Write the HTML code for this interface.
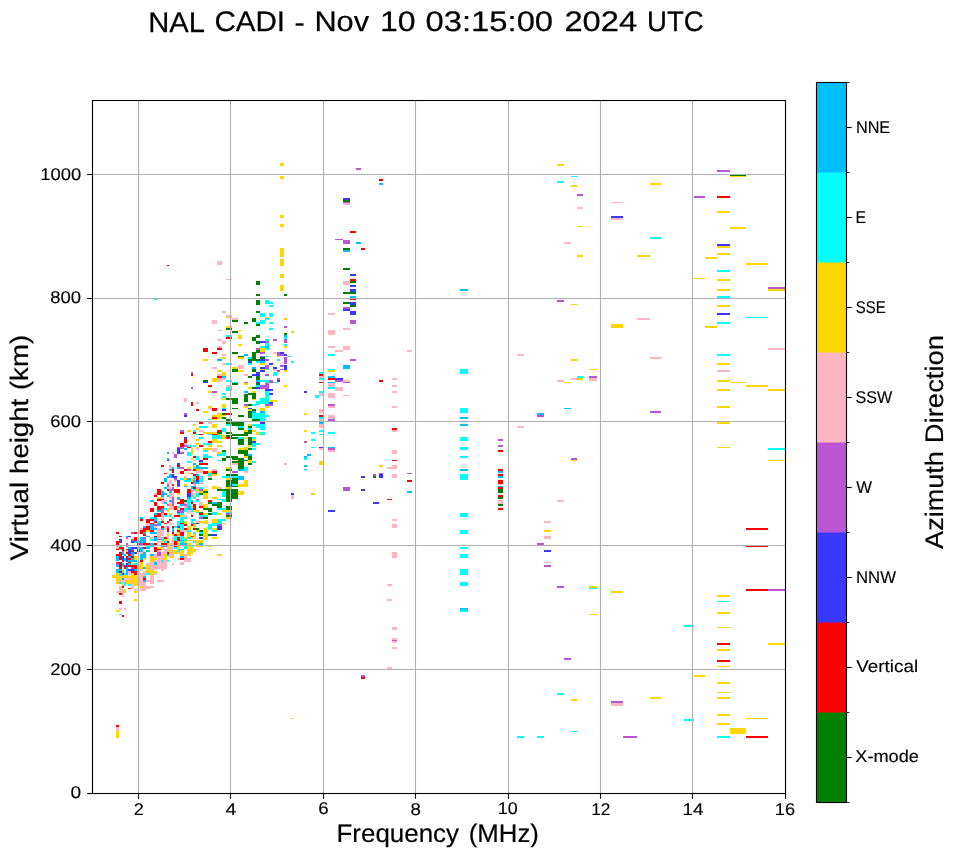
<!DOCTYPE html>
<html><head><meta charset="utf-8"><title>NAL CADI</title>
<style>
html,body{margin:0;padding:0;background:#fff;}
body{width:958px;height:857px;overflow:hidden;}
svg{display:block;}
text{font-family:"Liberation Sans",sans-serif;fill:#000;text-rendering:geometricPrecision;}
.tx{opacity:0.999;}
</style></head><body>
<svg width="958" height="857" viewBox="0 0 958 857">
<rect width="958" height="857" fill="#fff"/>
<g shape-rendering="crispEdges">
<path fill="#ffd700" d="M557 164h7v2h-7zM571 185h6v2h-6zM571 304h6v1h-6zM577 226h6v1h-6zM577 255h6v2h-6zM611 324h12v4h-12zM637 255h13v2h-13zM650 183h11v2h-11zM694 278h11v1h-11zM705 257h12v2h-12zM705 326h12v2h-12zM717 211h13v2h-13zM717 246h13v2h-13zM717 253h13v2h-13zM717 279h13v2h-13zM717 289h13v2h-13zM717 305h13v2h-13zM730 176h16v1h-16zM730 227h16v2h-16zM746 263h22v2h-22zM768 289h17v2h-17zM544 530h7v2h-7zM564 382h7v1h-7zM571 359h6v2h-6zM571 460h6v1h-6zM577 378h6v2h-6zM589 369h8v1h-8zM717 363h13v2h-13zM717 380h13v2h-13zM717 389h13v2h-13zM717 406h13v2h-13zM717 422h13v2h-13zM717 447h13v1h-13zM730 382h16v1h-16zM746 385h22v2h-22zM768 389h17v2h-17zM768 460h17v1h-17zM571 699h6v2h-6zM589 586h8v2h-8zM589 614h8v1h-8zM611 591h12v2h-12zM650 697h11v2h-11zM694 675h11v2h-11zM717 595h13v2h-13zM717 612h13v2h-13zM717 627h13v1h-13zM717 649h13v2h-13zM717 666h13v1h-13zM717 682h13v2h-13zM717 692h13v1h-13zM717 697h13v2h-13zM717 714h13v2h-13zM717 723h13v2h-13zM730 728h16v2h-16zM746 718h22v1h-22zM768 643h17v2h-17zM730 729h16v5h-16zM328 370h7v2h-7zM319 461h4v4h-4zM304 413h3v2h-3zM304 430h3v2h-3zM379 465h4v2h-4zM311 493h4v2h-4zM280 163h4v3h-4zM280 176h4v3h-4zM280 215h4v3h-4zM280 224h4v3h-4zM280 248h4v9h-4zM280 259h4v7h-4zM280 274h4v4h-4zM280 285h4v6h-4zM226 317h6v1h-6zM226 326h6v2h-6zM238 330h4v1h-4zM238 335h4v4h-4zM238 344h4v2h-4zM238 357h6v2h-6zM260 348h5v4h-5zM265 317h4v1h-4zM277 356h3v1h-3zM284 318h3v2h-3zM284 346h3v2h-3zM291 331h3v2h-3zM232 367h6v2h-6zM238 370h6v2h-6zM244 383h4v2h-4zM244 406h4v2h-4zM248 387h4v2h-4zM248 409h4v2h-4zM248 424h4v2h-4zM252 391h4v2h-4zM252 398h4v2h-4zM260 363h5v2h-5zM260 369h5v1h-5zM260 408h5v3h-5zM265 406h4v2h-4zM269 400h4v2h-4zM273 400h4v2h-4zM284 370h3v2h-3zM284 385h3v2h-3zM226 467h6v2h-6zM226 478h6v2h-6zM226 487h6v2h-6zM238 448h6v2h-6zM238 484h6v3h-6zM238 491h6v4h-6zM244 430h4v2h-4zM244 437h4v2h-4zM244 447h4v3h-4zM244 456h4v2h-4zM244 480h4v7h-4zM248 445h4v2h-4zM248 460h4v3h-4zM252 430h4v2h-4zM252 439h4v2h-4zM256 432h4v3h-4zM205 493h3v6h-3zM205 504h3v4h-3zM205 513h3v2h-3zM205 520h3v4h-3zM205 528h3v11h-3zM208 546h4v1h-4zM212 497h5v2h-5zM212 519h5v4h-5zM212 528h5v2h-5zM212 537h5v2h-5zM217 513h5v2h-5zM217 554h5v2h-5zM222 510h4v2h-4zM222 523h4v1h-4zM226 510h6v2h-6zM226 517h6v2h-6zM203 359h5v2h-5zM203 411h5v2h-5zM212 378h5v4h-5zM212 415h5v2h-5zM212 419h5v1h-5zM217 370h5v2h-5zM217 413h5v6h-5zM222 357h4v2h-4zM222 372h4v4h-4zM222 398h4v2h-4zM222 404h4v4h-4zM222 415h4v1h-4zM208 391h4v2h-4zM208 406h4v2h-4zM193 424h3v2h-3zM212 424h5v4h-5zM196 428h3v2h-3zM187 430h4v2h-4zM203 432h14v2h-14zM191 434h2v1h-2zM217 434h5v1h-5zM222 435h4v4h-4zM196 439h3v2h-3zM212 439h5v4h-5zM217 441h5v2h-5zM196 443h3v2h-3zM208 445h4v2h-4zM217 445h5v2h-5zM196 447h3v1h-3zM203 448h9v2h-9zM191 448h2v6h-2zM217 452h5v2h-5zM191 458h2v2h-2zM193 465h3v2h-3zM187 467h4v2h-4zM191 469h2v2h-2zM196 469h3v2h-3zM208 471h4v2h-4zM187 473h4v1h-4zM212 474h5v2h-5zM184 478h3v2h-3zM191 478h2v4h-2zM184 484h3v2h-3zM212 486h5v3h-5zM196 489h3v2h-3zM203 489h5v2h-5zM199 491h4v2h-4zM177 493h3v2h-3zM203 493h5v2h-5zM126 550h2v2h-2zM131 563h3v2h-3zM134 556h3v4h-3zM137 561h3v9h-3zM140 562h3v8h-3zM143 558h3v2h-3zM146 530h4v2h-4zM146 565h4v5h-4zM150 556h4v6h-4zM154 558h3v2h-3zM112 575h4v3h-4zM116 573h3v11h-3zM116 610h3v2h-3zM119 576h3v4h-3zM119 588h3v1h-3zM122 569h2v2h-2zM122 575h2v3h-2zM122 584h2v2h-2zM124 575h2v3h-2zM124 589h2v4h-2zM126 575h2v3h-2zM126 580h2v4h-2zM128 576h3v2h-3zM128 580h3v4h-3zM131 573h3v9h-3zM131 588h3v1h-3zM134 575h3v11h-3zM134 591h3v2h-3zM134 599h3v2h-3zM137 569h3v2h-3zM137 580h3v6h-3zM140 586h3v2h-3zM146 570h4v3h-4zM150 569h4v6h-4zM154 571h3v2h-3zM157 497h4v2h-4zM164 539h3v1h-3zM167 508h2v4h-2zM167 534h2v2h-2zM169 504h3v2h-3zM169 513h3v2h-3zM172 534h2v2h-2zM172 539h2v1h-2zM177 528h3v2h-3zM177 532h3v4h-3zM180 515h4v2h-4zM184 521h3v3h-3zM184 537h3v2h-3zM187 526h4v4h-4zM187 532h4v5h-4zM191 506h2v2h-2zM191 537h2v2h-2zM193 495h3v2h-3zM193 510h3v2h-3zM193 524h3v4h-3zM193 534h3v3h-3zM196 510h3v2h-3zM196 530h3v2h-3zM199 521h4v2h-4zM203 495h5v4h-5zM203 504h5v4h-5zM203 513h5v2h-5zM203 521h5v3h-5zM203 528h5v12h-5zM154 558h3v2h-3zM154 571h3v2h-3zM157 547h4v2h-4zM161 541h3v2h-3zM161 549h3v1h-3zM164 540h3v1h-3zM164 554h3v6h-3zM167 543h2v2h-2zM167 546h2v3h-2zM167 550h2v2h-2zM169 556h3v2h-3zM172 540h2v1h-2zM172 550h2v4h-2zM172 556h2v2h-2zM174 550h3v4h-3zM177 541h3v4h-3zM177 546h3v3h-3zM180 550h4v6h-4zM184 541h3v2h-3zM187 540h4v1h-4zM187 543h4v2h-4zM187 546h4v10h-4zM191 547h2v7h-2zM193 540h3v1h-3zM193 549h3v3h-3zM196 540h3v7h-3zM199 540h4v3h-4zM199 546h4v1h-4zM116 731h3v7h-3zM291 718h3v1h-3z"/>
<path fill="#00ffff" d="M557 181h7v2h-7zM571 176h6v1h-6zM650 237h11v2h-11zM717 270h13v2h-13zM717 296h13v2h-13zM717 322h13v2h-13zM746 317h22v1h-22zM577 376h6v2h-6zM717 354h13v2h-13zM768 448h17v2h-17zM557 693h7v2h-7zM589 588h8v1h-8zM684 625h10v2h-10zM684 719h10v2h-10zM717 601h13v1h-13zM571 731h6v1h-6zM540 736h4v2h-4zM717 736h13v2h-13zM328 354h7v2h-7zM328 369h7v1h-7zM328 387h7v2h-7zM328 432h7v2h-7zM319 372h4v2h-4zM319 378h4v2h-4zM319 391h4v2h-4zM319 417h4v2h-4zM319 430h4v2h-4zM319 434h4v1h-4zM315 395h4v3h-4zM304 458h3v2h-3zM311 432h4v2h-4zM311 439h4v2h-4zM311 447h4v1h-4zM460 582h8v4h-8zM460 610h8v2h-8zM517 736h7v2h-7zM537 736h7v2h-7zM460 369h8v5h-8zM460 408h8v5h-8zM460 437h8v4h-8zM460 447h8v3h-8zM460 456h8v2h-8zM460 474h8v6h-8zM460 513h8v4h-8zM460 530h8v4h-8zM460 547h8v2h-8zM460 554h8v4h-8zM460 569h8v6h-8zM154 299h3v1h-3zM226 335h6v2h-6zM248 357h4v2h-4zM256 322h4v2h-4zM260 313h5v4h-5zM260 320h5v4h-5zM260 346h5v2h-5zM265 300h4v4h-4zM265 318h4v2h-4zM265 339h4v2h-4zM265 343h4v3h-4zM265 348h4v2h-4zM265 356h4v1h-4zM269 302h4v2h-4zM269 305h4v2h-4zM269 313h4v4h-4zM269 322h4v2h-4zM269 328h4v2h-4zM277 359h3v1h-3zM284 337h3v2h-3zM284 344h3v2h-3zM287 356h4v1h-4zM226 363h6v2h-6zM226 380h6v2h-6zM226 387h6v4h-6zM226 424h6v2h-6zM232 382h6v1h-6zM238 426h6v2h-6zM248 363h4v2h-4zM248 428h4v2h-4zM252 404h4v2h-4zM252 413h4v6h-4zM252 424h4v2h-4zM256 361h4v2h-4zM256 385h4v2h-4zM256 401h4v4h-4zM256 413h4v6h-4zM256 424h4v4h-4zM260 380h5v2h-5zM260 398h5v6h-5zM260 413h5v8h-5zM260 424h5v6h-5zM265 369h4v1h-4zM265 380h4v3h-4zM265 391h4v13h-4zM265 415h4v2h-4zM273 372h4v4h-4zM273 382h4v1h-4zM277 359h3v2h-3zM291 361h3v2h-3zM226 476h6v2h-6zM232 476h6v2h-6zM232 484h6v2h-6zM238 437h6v2h-6zM244 467h4v4h-4zM252 437h4v2h-4zM252 443h4v4h-4zM252 448h4v2h-4zM252 461h4v2h-4zM256 443h4v2h-4zM260 432h5v3h-5zM205 515h3v2h-3zM208 524h4v6h-4zM212 512h5v3h-5zM212 523h5v3h-5zM212 530h5v2h-5zM217 499h5v1h-5zM217 508h5v2h-5zM217 519h5v5h-5zM222 491h4v6h-4zM222 499h4v3h-4zM222 508h4v2h-4zM222 519h4v2h-4zM226 512h6v1h-6zM222 393h4v2h-4zM222 396h4v2h-4zM222 408h4v1h-4zM208 419h4v1h-4zM199 426h9v2h-9zM193 430h3v2h-3zM222 428h4v4h-4zM196 434h3v1h-3zM208 434h4v1h-4zM212 435h10v4h-10zM199 437h4v2h-4zM203 443h9v2h-9zM187 445h4v2h-4zM193 445h3v2h-3zM203 450h5v2h-5zM187 452h4v4h-4zM222 452h4v4h-4zM217 454h5v2h-5zM203 454h5v4h-5zM208 456h4v2h-4zM196 456h3v4h-3zM217 460h5v1h-5zM187 461h4v2h-4zM199 462h4v1h-4zM193 467h3v2h-3zM208 473h4v3h-4zM193 476h3v2h-3zM222 476h4v2h-4zM199 476h4v6h-4zM180 478h4v2h-4zM193 478h3v2h-3zM184 480h7v2h-7zM199 487h4v2h-4zM193 489h3v2h-3zM196 493h3v2h-3zM222 493h4v2h-4zM119 546h3v1h-3zM119 549h3v1h-3zM134 563h3v2h-3zM146 546h4v1h-4zM150 539h4v2h-4zM119 573h3v3h-3zM119 582h3v2h-3zM119 614h3v1h-3zM122 571h2v2h-2zM124 573h2v2h-2zM124 582h2v4h-2zM128 584h3v2h-3zM146 573h4v2h-4zM157 521h4v2h-4zM161 537h3v3h-3zM164 508h3v2h-3zM164 515h3v2h-3zM169 515h3v2h-3zM172 517h2v2h-2zM174 526h3v2h-3zM174 536h3v4h-3zM177 506h3v2h-3zM177 513h3v2h-3zM177 521h3v5h-3zM180 513h4v2h-4zM180 517h4v6h-4zM180 524h4v6h-4zM180 536h4v4h-4zM184 508h3v4h-3zM184 517h3v2h-3zM184 539h3v1h-3zM187 499h4v7h-4zM187 530h4v2h-4zM187 537h4v2h-4zM191 495h2v2h-2zM191 508h2v4h-2zM191 519h2v5h-2zM193 497h3v2h-3zM193 519h3v2h-3zM193 532h3v2h-3zM196 495h3v2h-3zM196 500h3v2h-3zM196 512h3v1h-3zM199 515h4v2h-4zM199 532h4v2h-4zM203 515h5v2h-5zM161 540h3v1h-3zM161 560h3v2h-3zM164 541h3v2h-3zM167 560h2v2h-2zM174 540h3v1h-3zM174 547h3v2h-3zM177 549h3v3h-3zM180 541h4v2h-4zM184 540h3v1h-3zM184 546h3v3h-3zM191 546h2v1h-2zM193 541h3v2h-3zM150 517h4v2h-4z"/>
<path fill="#ba55d3" d="M557 300h7v2h-7zM577 194h6v2h-6zM694 196h11v2h-11zM717 170h13v2h-13zM768 287h17v2h-17zM571 458h6v2h-6zM589 376h8v2h-8zM650 411h11v2h-11zM540 543h4v2h-4zM544 565h7v2h-7zM557 586h7v2h-7zM564 658h7v2h-7zM611 701h12v2h-12zM768 589h17v2h-17zM623 736h14v2h-14zM356 168h5v2h-5zM343 202h7v1h-7zM343 240h7v4h-7zM335 239h8v1h-8zM343 307h7v2h-7zM350 320h6v4h-6zM335 380h8v2h-8zM328 404h7v2h-7zM328 419h7v2h-7zM328 448h7v2h-7zM350 359h6v2h-6zM343 382h7v1h-7zM304 441h3v2h-3zM373 474h3v2h-3zM379 473h4v1h-4zM407 473h5v1h-5zM343 487h7v4h-7zM392 640h5v1h-5zM361 675h4v2h-4zM498 439h5v2h-5zM498 445h5v2h-5zM537 415h7v2h-7zM537 543h7v2h-7zM256 348h4v2h-4zM260 352h5v2h-5zM260 356h5v1h-5zM265 341h4v2h-4zM265 359h4v1h-4zM273 339h4v2h-4zM277 352h3v4h-3zM280 354h4v2h-4zM284 326h3v2h-3zM284 339h3v4h-3zM284 357h3v3h-3zM244 382h4v1h-4zM244 404h4v2h-4zM260 385h5v4h-5zM265 359h4v2h-4zM265 365h4v4h-4zM265 374h4v2h-4zM265 383h4v6h-4zM265 404h4v2h-4zM269 380h4v3h-4zM269 404h4v2h-4zM277 370h3v2h-3zM277 378h3v2h-3zM280 365h4v2h-4zM280 369h4v1h-4zM284 357h3v7h-3zM232 471h6v2h-6zM217 524h5v2h-5zM226 513h6v2h-6zM212 391h5v2h-5zM191 372h2v2h-2zM191 387h2v2h-2zM184 413h3v2h-3zM180 430h4v2h-4zM184 445h3v2h-3zM177 447h7v2h-7zM180 452h4v2h-4zM174 454h3v4h-3zM180 467h4v2h-4zM187 469h4v2h-4zM174 478h3v2h-3zM167 484h2v3h-2zM177 486h3v1h-3zM172 487h2v4h-2zM199 489h4v2h-4zM177 491h3v2h-3zM116 563h3v2h-3zM122 550h2v2h-2zM126 537h2v2h-2zM126 543h2v2h-2zM126 546h2v1h-2zM131 532h3v2h-3zM131 539h3v2h-3zM131 567h3v2h-3zM140 543h3v2h-3zM143 537h3v2h-3zM154 524h3v2h-3zM154 524h3v2h-3zM157 539h4v1h-4zM161 508h3v5h-3zM167 504h2v2h-2zM167 526h2v2h-2zM172 497h2v9h-2zM177 510h3v2h-3zM180 510h4v3h-4zM184 504h3v2h-3zM193 523h3v1h-3zM196 499h3v1h-3zM199 517h4v2h-4zM157 552h4v4h-4zM164 546h3v1h-3z"/>
<path fill="#ffb6c1" d="M564 242h7v2h-7zM577 207h6v2h-6zM611 202h12v1h-12zM611 218h12v2h-12zM637 318h13v2h-13zM768 348h17v2h-17zM544 521h7v2h-7zM544 536h7v3h-7zM557 380h7v2h-7zM557 500h7v2h-7zM571 378h6v2h-6zM589 378h8v3h-8zM650 357h11v2h-11zM717 370h13v2h-13zM544 562h7v1h-7zM611 703h12v3h-12zM343 203h7v2h-7zM343 281h7v4h-7zM343 328h7v2h-7zM343 346h7v4h-7zM328 313h7v2h-7zM328 330h7v5h-7zM328 346h7v2h-7zM335 350h8v2h-8zM335 387h8v4h-8zM407 350h5v2h-5zM328 383h7v4h-7zM328 393h7v5h-7zM328 406h7v2h-7zM328 415h7v4h-7zM328 450h7v2h-7zM343 380h7v2h-7zM343 395h7v1h-7zM319 376h4v2h-4zM319 393h4v3h-4zM319 409h4v4h-4zM319 419h4v2h-4zM319 424h4v4h-4zM319 448h4v2h-4zM392 378h5v2h-5zM392 385h5v2h-5zM392 391h5v2h-5zM392 406h5v2h-5zM392 430h5v2h-5zM392 450h5v4h-5zM392 465h5v4h-5zM387 467h5v2h-5zM392 474h5v4h-5zM392 519h5v2h-5zM392 524h5v4h-5zM392 552h5v6h-5zM387 584h5v2h-5zM387 599h5v2h-5zM387 667h5v2h-5zM392 627h5v3h-5zM392 638h5v2h-5zM392 641h5v2h-5zM392 647h5v2h-5zM517 354h7v2h-7zM517 426h7v2h-7zM498 484h5v1h-5zM498 500h5v4h-5zM217 261h5v4h-5zM226 279h6v1h-6zM217 330h5v1h-5zM217 339h5v2h-5zM217 346h5v2h-5zM226 315h6v2h-6zM222 311h4v2h-4zM222 341h4v3h-4zM212 320h5v4h-5zM232 318h6v2h-6zM273 352h4v2h-4zM226 385h6v2h-6zM238 365h6v4h-6zM244 374h4v2h-4zM273 369h4v2h-4zM232 463h6v2h-6zM244 471h4v2h-4zM284 463h3v2h-3zM291 495h3v4h-3zM212 367h5v2h-5zM217 374h5v2h-5zM217 378h5v4h-5zM222 354h4v2h-4zM222 363h4v2h-4zM222 378h4v2h-4zM208 408h4v1h-4zM184 398h3v4h-3zM196 402h3v2h-3zM208 422h4v2h-4zM199 430h4v2h-4zM184 443h3v2h-3zM196 448h3v2h-3zM212 448h5v4h-5zM172 452h2v2h-2zM193 460h3v1h-3zM169 465h3v4h-3zM212 469h5v2h-5zM199 469h4v4h-4zM196 471h3v2h-3zM184 476h3v2h-3zM208 476h4v2h-4zM174 480h3v2h-3zM169 480h3v4h-3zM167 482h2v2h-2zM199 482h4v2h-4zM193 484h3v2h-3zM167 487h5v2h-5zM196 487h3v2h-3zM217 487h5v2h-5zM196 491h3v2h-3zM191 490h2v5h-2zM154 493h3v2h-3zM169 493h5v2h-5zM193 493h3v2h-3zM116 546h3v3h-3zM137 539h3v2h-3zM140 528h3v2h-3zM140 552h3v2h-3zM146 523h4v3h-4zM146 563h4v2h-4zM150 537h4v2h-4zM150 562h4v8h-4zM154 526h3v2h-3zM154 554h3v4h-3zM154 560h3v2h-3zM154 565h3v5h-3zM116 591h3v2h-3zM119 580h3v2h-3zM119 586h3v2h-3zM119 589h3v4h-3zM119 608h3v2h-3zM122 580h2v4h-2zM122 589h2v8h-2zM124 578h2v4h-2zM124 608h2v2h-2zM126 578h2v2h-2zM128 571h3v4h-3zM128 578h3v2h-3zM131 582h3v6h-3zM134 589h3v2h-3zM137 571h3v9h-3zM140 569h3v2h-3zM140 573h3v13h-3zM140 588h3v3h-3zM143 571h3v5h-3zM143 582h3v9h-3zM146 580h4v2h-4zM146 586h4v3h-4zM150 575h4v9h-4zM150 586h4v2h-4zM154 573h3v2h-3zM157 580h4v2h-4zM154 526h3v2h-3zM157 528h4v11h-4zM161 497h3v2h-3zM161 500h3v4h-3zM161 513h3v8h-3zM161 530h3v6h-3zM164 500h3v2h-3zM164 526h3v4h-3zM167 532h2v2h-2zM167 536h2v3h-2zM169 495h3v4h-3zM169 502h3v2h-3zM169 506h3v4h-3zM169 523h3v2h-3zM172 495h2v2h-2zM172 506h2v4h-2zM172 523h2v1h-2zM172 537h2v2h-2zM180 530h4v2h-4zM184 502h3v2h-3zM184 506h3v2h-3zM184 515h3v2h-3zM184 530h3v2h-3zM187 510h4v3h-4zM191 504h2v2h-2zM191 513h2v2h-2zM193 537h3v2h-3zM196 521h3v2h-3zM199 502h4v4h-4zM154 554h3v4h-3zM154 560h3v2h-3zM154 565h3v2h-3zM154 573h3v2h-3zM157 541h4v2h-4zM157 550h4v2h-4zM157 556h4v13h-4zM157 580h4v2h-4zM161 547h3v2h-3zM161 552h3v8h-3zM161 562h3v9h-3zM161 580h3v2h-3zM164 549h3v5h-3zM164 560h3v9h-3zM169 543h3v2h-3zM169 546h3v10h-3zM172 541h2v4h-2zM172 546h2v4h-2zM172 554h2v2h-2zM172 563h2v2h-2zM177 552h3v2h-3zM177 558h3v2h-3zM180 562h4v3h-4zM184 554h3v8h-3zM187 558h4v4h-4zM191 540h2v1h-2zM196 549h3v1h-3zM146 523h4v2h-4zM116 727h3v4h-3z"/>
<path fill="#3838ff" d="M611 216h12v2h-12zM717 244h13v2h-13zM717 313h13v2h-13zM544 550h7v2h-7zM343 198h7v2h-7zM343 309h7v2h-7zM350 274h6v2h-6zM350 285h6v2h-6zM350 289h6v3h-6zM350 302h6v3h-6zM350 311h6v4h-6zM335 378h8v2h-8zM319 447h4v1h-4zM304 391h3v2h-3zM361 476h4v2h-4zM361 489h4v2h-4zM379 474h4v4h-4zM373 502h6v2h-6zM328 510h7v2h-7zM260 341h5v2h-5zM260 359h5v1h-5zM280 352h4v2h-4zM284 354h3v2h-3zM248 361h4v2h-4zM248 408h4v1h-4zM252 374h4v2h-4zM256 372h4v4h-4zM256 382h4v1h-4zM256 387h4v2h-4zM260 359h5v2h-5zM260 367h5v2h-5zM260 370h5v2h-5zM260 422h5v2h-5zM265 389h4v2h-4zM269 363h4v2h-4zM269 389h4v2h-4zM269 393h4v2h-4zM269 402h4v2h-4zM273 367h4v2h-4zM277 380h3v2h-3zM284 365h3v5h-3zM252 441h4v2h-4zM291 493h3v2h-3zM212 534h5v2h-5zM217 526h5v4h-5zM203 382h5v1h-5zM222 409h4v2h-4zM184 415h3v2h-3zM184 437h3v2h-3zM177 448h3v6h-3zM199 460h4v2h-4zM177 463h3v2h-3zM172 474h2v2h-2zM172 476h5v2h-5zM196 480h3v2h-3zM177 480h3v6h-3zM187 493h4v2h-4zM119 539h3v4h-3zM122 556h2v5h-2zM126 558h2v4h-2zM126 563h2v4h-2zM128 536h3v1h-3zM128 549h3v5h-3zM131 541h3v2h-3zM131 547h3v2h-3zM134 547h3v2h-3zM134 552h3v2h-3zM137 543h3v2h-3zM122 573h2v2h-2zM128 569h3v2h-3zM131 569h3v2h-3zM177 512h3v1h-3zM177 526h3v2h-3zM187 495h4v2h-4zM199 537h4v2h-4z"/>
<path fill="#ff0000" d="M717 196h13v2h-13zM746 528h22v2h-22zM717 643h13v2h-13zM717 660h13v2h-13zM746 546h22v1h-22zM746 589h22v2h-22zM746 736h22v2h-22zM379 179h4v2h-4zM350 231h6v2h-6zM361 248h4v2h-4zM350 279h6v2h-6zM350 299h6v1h-6zM328 378h7v2h-7zM319 374h4v2h-4zM319 382h4v1h-4zM319 415h4v2h-4zM379 380h4v2h-4zM392 428h5v2h-5zM392 460h5v1h-5zM407 480h5v2h-5zM387 499h5v1h-5zM361 677h4v2h-4zM498 450h5v2h-5zM498 469h5v2h-5zM498 474h5v2h-5zM498 480h5v4h-5zM498 487h5v2h-5zM498 495h5v2h-5zM498 508h5v2h-5zM167 265h2v1h-2zM217 348h5v2h-5zM226 337h6v2h-6zM203 348h5v2h-5zM226 413h6v2h-6zM226 437h6v2h-6zM208 500h4v2h-4zM203 348h5v4h-5zM212 352h5v2h-5zM212 408h5v3h-5zM212 417h5v2h-5zM217 376h5v2h-5zM208 385h4v2h-4zM191 374h2v2h-2zM191 402h2v4h-2zM196 409h3v2h-3zM199 422h4v2h-4zM217 430h5v2h-5zM180 432h4v2h-4zM193 432h3v2h-3zM199 434h4v1h-4zM212 434h5v1h-5zM184 439h3v4h-3zM208 441h4v2h-4zM180 443h4v4h-4zM199 445h4v2h-4zM187 447h4v1h-4zM193 456h3v2h-3zM203 458h5v2h-5zM167 460h2v1h-2zM199 463h9v2h-9zM161 465h3v2h-3zM177 465h3v2h-3zM184 469h3v2h-3zM193 469h3v2h-3zM172 469h2v4h-2zM212 471h5v2h-5zM180 471h4v3h-4zM203 471h5v3h-5zM164 473h3v1h-3zM191 473h2v1h-2zM193 474h3v2h-3zM196 476h3v4h-3zM161 482h3v2h-3zM191 482h2v2h-2zM172 484h2v2h-2zM193 487h3v2h-3zM167 489h2v2h-2zM157 489h4v6h-4zM174 489h6v4h-6zM187 489h4v4h-4zM116 532h3v2h-3zM116 541h3v4h-3zM116 549h3v1h-3zM116 554h3v2h-3zM116 562h3v1h-3zM119 536h3v1h-3zM119 547h3v2h-3zM119 552h3v8h-3zM119 562h3v7h-3zM122 547h2v4h-2zM122 560h2v2h-2zM124 565h2v4h-2zM126 549h2v1h-2zM126 552h2v2h-2zM126 556h2v2h-2zM128 554h3v2h-3zM128 558h3v2h-3zM128 562h3v1h-3zM128 565h3v2h-3zM131 550h3v2h-3zM131 556h3v2h-3zM131 565h3v2h-3zM134 532h3v2h-3zM134 537h3v4h-3zM134 565h3v4h-3zM137 550h3v2h-3zM140 530h3v4h-3zM140 560h3v2h-3zM143 528h3v4h-3zM143 534h3v2h-3zM143 543h3v2h-3zM143 547h3v2h-3zM146 520h4v3h-4zM146 526h4v4h-4zM146 543h4v2h-4zM150 530h4v2h-4zM154 521h3v2h-3zM154 536h3v1h-3zM154 543h3v2h-3zM154 547h3v5h-3zM119 571h3v2h-3zM119 593h3v2h-3zM119 601h3v3h-3zM122 586h2v2h-2zM128 588h3v1h-3zM131 571h3v2h-3zM134 571h3v4h-3zM143 578h3v2h-3zM154 495h3v2h-3zM154 502h3v4h-3zM154 515h3v2h-3zM154 521h3v2h-3zM154 536h3v1h-3zM157 499h4v2h-4zM157 506h4v4h-4zM157 513h4v4h-4zM161 499h3v1h-3zM161 506h3v2h-3zM161 521h3v2h-3zM161 526h3v2h-3zM164 513h3v2h-3zM164 523h3v1h-3zM164 537h3v2h-3zM167 521h2v2h-2zM167 528h2v4h-2zM169 519h3v2h-3zM172 526h2v2h-2zM172 532h2v2h-2zM174 506h3v4h-3zM174 515h3v2h-3zM174 534h3v2h-3zM177 502h3v2h-3zM177 515h3v2h-3zM177 530h3v2h-3zM177 537h3v3h-3zM180 499h4v5h-4zM180 508h4v2h-4zM180 523h4v1h-4zM180 532h4v4h-4zM184 524h3v2h-3zM184 528h3v2h-3zM191 502h2v2h-2zM191 515h2v2h-2zM191 524h2v2h-2zM191 536h2v1h-2zM193 504h3v6h-3zM193 528h3v2h-3zM199 506h4v2h-4zM199 513h4v2h-4zM154 543h3v2h-3zM154 547h3v5h-3zM157 549h4v1h-4zM161 543h3v2h-3zM164 543h3v2h-3zM167 541h2v2h-2zM167 552h2v2h-2zM174 541h3v4h-3zM174 546h3v1h-3zM177 540h3v1h-3zM180 558h4v2h-4zM140 519h3v2h-3zM146 519h4v4h-4zM150 508h4v4h-4zM150 519h4v2h-4zM150 523h4v1h-4zM122 615h2v2h-2zM116 725h3v2h-3z"/>
<path fill="#008000" d="M730 175h16v1h-16zM343 200h7v2h-7zM343 248h7v2h-7zM343 268h7v2h-7zM343 292h7v2h-7zM343 302h7v2h-7zM350 281h6v2h-6zM350 292h6v2h-6zM350 305h6v2h-6zM373 476h3v2h-3zM498 489h5v4h-5zM498 497h5v2h-5zM498 504h5v2h-5zM256 281h4v4h-4zM256 294h4v2h-4zM284 294h3v2h-3zM226 328h6v2h-6zM232 320h6v2h-6zM232 331h6v2h-6zM232 352h6v2h-6zM238 356h6v1h-6zM244 322h4v2h-4zM248 359h4v1h-4zM252 318h4v4h-4zM252 337h4v4h-4zM252 352h4v8h-4zM256 300h4v5h-4zM256 311h4v2h-4zM256 324h4v2h-4zM256 335h4v3h-4zM256 341h4v3h-4zM256 350h4v3h-4zM260 357h5v2h-5zM284 333h3v2h-3zM226 398h6v2h-6zM226 419h6v2h-6zM226 422h6v2h-6zM232 369h6v3h-6zM232 383h6v2h-6zM232 398h6v6h-6zM232 408h6v1h-6zM232 422h6v4h-6zM238 415h6v2h-6zM238 422h6v4h-6zM238 428h6v2h-6zM244 394h4v8h-4zM248 359h4v2h-4zM248 376h4v2h-4zM248 393h4v2h-4zM248 404h4v2h-4zM248 411h4v7h-4zM248 426h4v2h-4zM252 359h4v2h-4zM252 369h4v3h-4zM252 387h4v2h-4zM252 393h4v6h-4zM252 409h4v2h-4zM252 419h4v2h-4zM256 359h4v2h-4zM256 376h4v4h-4zM256 383h4v2h-4zM256 419h4v2h-4zM226 432h6v2h-6zM226 435h6v2h-6zM226 456h6v2h-6zM226 469h6v2h-6zM226 474h6v2h-6zM226 480h6v7h-6zM226 489h6v10h-6zM226 499h6v1h-6zM232 434h6v2h-6zM232 437h6v2h-6zM232 456h6v4h-6zM232 461h6v2h-6zM232 474h6v2h-6zM232 478h6v6h-6zM232 486h6v1h-6zM232 489h6v10h-6zM238 434h6v2h-6zM238 439h6v6h-6zM238 450h6v4h-6zM238 458h6v11h-6zM244 432h4v4h-4zM244 450h4v6h-4zM244 460h4v1h-4zM248 430h4v4h-4zM248 437h4v8h-4zM248 448h4v2h-4zM248 456h4v4h-4zM248 463h4v2h-4zM205 491h3v2h-3zM205 508h3v1h-3zM205 517h3v2h-3zM208 502h4v2h-4zM208 508h4v4h-4zM208 513h4v2h-4zM208 534h4v2h-4zM212 504h5v2h-5zM217 490h5v1h-5zM217 502h5v6h-5zM226 499h6v3h-6zM226 506h6v4h-6zM226 515h6v2h-6zM203 380h5v2h-5zM222 413h4v2h-4zM222 417h4v2h-4zM217 432h5v2h-5zM222 450h4v2h-4zM222 458h4v3h-4zM212 473h5v1h-5zM208 478h4v2h-4zM217 489h9v2h-9zM203 491h5v2h-5zM199 493h4v2h-4zM184 500h3v2h-3zM196 523h3v1h-3zM196 528h3v2h-3zM199 512h4v1h-4zM199 530h4v2h-4zM199 534h4v2h-4zM203 508h5v2h-5zM203 517h5v2h-5z"/>
<path fill="#00bfff" d="M564 408h7v1h-7zM460 289h8v2h-8zM356 242h5v2h-5zM379 183h4v2h-4zM343 250h7v2h-7zM350 296h6v2h-6zM328 376h7v2h-7zM328 382h7v1h-7zM328 447h7v1h-7zM343 365h7v4h-7zM319 422h4v2h-4zM304 456h3v2h-3zM304 465h3v2h-3zM304 469h3v1h-3zM307 454h4v2h-4zM407 491h5v2h-5zM460 608h8v2h-8zM460 417h8v2h-8zM460 424h8v2h-8zM460 469h8v2h-8zM498 471h5v2h-5zM498 476h5v2h-5zM537 413h7v2h-7zM498 486h5v1h-5zM244 354h4v2h-4zM265 346h4v2h-4zM284 335h3v2h-3zM244 391h4v2h-4zM252 367h4v2h-4zM252 411h4v2h-4zM256 380h4v2h-4zM260 361h5v2h-5zM260 411h5v2h-5zM238 469h6v2h-6zM238 476h6v4h-6zM248 454h4v2h-4zM212 502h5v2h-5zM217 359h5v2h-5zM222 376h4v2h-4zM184 448h3v2h-3zM167 452h2v2h-2zM167 458h2v2h-2zM193 463h3v2h-3zM196 465h3v4h-3zM172 467h2v2h-2zM177 467h3v2h-3zM199 467h9v2h-9zM169 469h3v2h-3zM169 474h3v2h-3zM196 474h3v2h-3zM167 476h5v2h-5zM187 478h4v2h-4zM164 478h3v4h-3zM193 480h3v4h-3zM196 482h3v2h-3zM184 486h3v1h-3zM191 486h5v1h-5zM164 487h3v2h-3zM191 487h2v2h-2zM169 489h3v2h-3zM161 491h3v4h-3zM169 491h3v2h-3zM164 493h3v2h-3zM116 556h3v5h-3zM116 565h3v2h-3zM116 569h3v1h-3zM122 552h2v3h-2zM122 563h2v4h-2zM124 554h2v2h-2zM124 558h2v3h-2zM126 536h2v1h-2zM126 567h2v3h-2zM128 547h3v2h-3zM128 556h3v2h-3zM128 560h3v2h-3zM128 563h3v2h-3zM131 549h3v1h-3zM131 552h3v4h-3zM131 558h3v4h-3zM134 541h3v2h-3zM134 560h3v2h-3zM137 541h3v2h-3zM137 547h3v3h-3zM140 537h3v6h-3zM140 547h3v5h-3zM140 554h3v6h-3zM143 526h3v2h-3zM143 532h3v2h-3zM143 539h3v4h-3zM143 552h3v6h-3zM146 536h4v1h-4zM146 547h4v2h-4zM146 550h4v2h-4zM150 524h4v6h-4zM150 532h4v2h-4zM150 543h4v2h-4zM150 546h4v1h-4zM150 554h4v2h-4zM154 528h3v2h-3zM154 532h3v2h-3zM154 537h3v4h-3zM154 562h3v3h-3zM116 569h3v4h-3zM119 569h3v2h-3zM122 578h2v2h-2zM126 567h2v8h-2zM134 569h3v2h-3zM143 567h3v2h-3zM143 576h3v2h-3zM143 580h3v2h-3zM154 513h3v2h-3zM154 517h3v4h-3zM154 528h3v2h-3zM154 532h3v2h-3zM154 537h3v3h-3zM157 510h4v2h-4zM157 523h4v3h-4zM161 495h3v2h-3zM161 528h3v2h-3zM164 502h3v2h-3zM167 495h2v2h-2zM169 500h3v2h-3zM172 528h2v4h-2zM177 497h3v3h-3zM180 504h4v2h-4zM187 497h4v2h-4zM187 506h4v4h-4zM191 500h2v2h-2zM154 540h3v1h-3zM154 562h3v3h-3zM161 546h3v1h-3zM167 554h2v2h-2zM180 540h4v1h-4zM180 543h4v2h-4zM180 549h4v1h-4zM180 556h4v2h-4zM184 543h3v2h-3zM199 543h4v2h-4zM140 517h3v2h-3zM150 500h4v2h-4zM150 524h4v1h-4z"/>
</g>
<g stroke="#b0b0b0" stroke-width="1.1" fill="none">
<line x1="138.5" y1="100.5" x2="138.5" y2="793.5"/><line x1="230.5" y1="100.5" x2="230.5" y2="793.5"/><line x1="323.5" y1="100.5" x2="323.5" y2="793.5"/><line x1="415.5" y1="100.5" x2="415.5" y2="793.5"/><line x1="508.5" y1="100.5" x2="508.5" y2="793.5"/><line x1="600.5" y1="100.5" x2="600.5" y2="793.5"/><line x1="692.5" y1="100.5" x2="692.5" y2="793.5"/><line x1="785.5" y1="100.5" x2="785.5" y2="793.5"/><line x1="92.5" y1="793.5" x2="785.5" y2="793.5"/><line x1="92.5" y1="669.5" x2="785.5" y2="669.5"/><line x1="92.5" y1="545.5" x2="785.5" y2="545.5"/><line x1="92.5" y1="421.5" x2="785.5" y2="421.5"/><line x1="92.5" y1="298.5" x2="785.5" y2="298.5"/><line x1="92.5" y1="174.5" x2="785.5" y2="174.5"/>
</g>
<g stroke="#000" stroke-width="1.1" fill="none">
<line x1="138.5" y1="793.5" x2="138.5" y2="798.80"/><line x1="230.5" y1="793.5" x2="230.5" y2="798.80"/><line x1="323.5" y1="793.5" x2="323.5" y2="798.80"/><line x1="415.5" y1="793.5" x2="415.5" y2="798.80"/><line x1="508.5" y1="793.5" x2="508.5" y2="798.80"/><line x1="600.5" y1="793.5" x2="600.5" y2="798.80"/><line x1="692.5" y1="793.5" x2="692.5" y2="798.80"/><line x1="785.5" y1="793.5" x2="785.5" y2="798.80"/><line x1="87.20" y1="793.5" x2="92.5" y2="793.5"/><line x1="87.20" y1="669.5" x2="92.5" y2="669.5"/><line x1="87.20" y1="545.5" x2="92.5" y2="545.5"/><line x1="87.20" y1="421.5" x2="92.5" y2="421.5"/><line x1="87.20" y1="298.5" x2="92.5" y2="298.5"/><line x1="87.20" y1="174.5" x2="92.5" y2="174.5"/>
<rect x="92.5" y="100.5" width="693.0" height="693.00"/>
</g>
<g>
<rect x="816.5" y="82.50" width="30.0" height="90.50" fill="#00bfff"/><rect x="816.5" y="172.50" width="30.0" height="90.50" fill="#00ffff"/><rect x="816.5" y="262.50" width="30.0" height="90.50" fill="#ffd700"/><rect x="816.5" y="352.50" width="30.0" height="90.50" fill="#ffb6c1"/><rect x="816.5" y="442.50" width="30.0" height="90.50" fill="#ba55d3"/><rect x="816.5" y="532.50" width="30.0" height="90.50" fill="#3838ff"/><rect x="816.5" y="622.50" width="30.0" height="90.50" fill="#ff0000"/><rect x="816.5" y="712.50" width="30.0" height="90.50" fill="#008000"/>
</g>
<g stroke="#000" stroke-width="1.1" fill="none">
<line x1="846.5" y1="127.50" x2="851.7" y2="127.50"/><line x1="846.5" y1="217.50" x2="851.7" y2="217.50"/><line x1="846.5" y1="307.50" x2="851.7" y2="307.50"/><line x1="846.5" y1="397.50" x2="851.7" y2="397.50"/><line x1="846.5" y1="487.50" x2="851.7" y2="487.50"/><line x1="846.5" y1="577.50" x2="851.7" y2="577.50"/><line x1="846.5" y1="667.50" x2="851.7" y2="667.50"/><line x1="846.5" y1="757.50" x2="851.7" y2="757.50"/><line x1="846.5" y1="82.50" x2="849.5" y2="82.50" stroke-width="0.8"/><line x1="846.5" y1="172.50" x2="849.5" y2="172.50" stroke-width="0.8"/><line x1="846.5" y1="262.50" x2="849.5" y2="262.50" stroke-width="0.8"/><line x1="846.5" y1="352.50" x2="849.5" y2="352.50" stroke-width="0.8"/><line x1="846.5" y1="442.50" x2="849.5" y2="442.50" stroke-width="0.8"/><line x1="846.5" y1="532.50" x2="849.5" y2="532.50" stroke-width="0.8"/><line x1="846.5" y1="622.50" x2="849.5" y2="622.50" stroke-width="0.8"/><line x1="846.5" y1="712.50" x2="849.5" y2="712.50" stroke-width="0.8"/><line x1="846.5" y1="802.50" x2="849.5" y2="802.50" stroke-width="0.8"/>
<rect x="816.5" y="82.5" width="30.0" height="720.00"/>
</g>
<g class="tx">
<text id="ti0" transform="translate(148.30,32.30) scale(1.0298,1)" font-size="28.3" text-anchor="start" stroke="#000" stroke-width="0.25">NAL</text>
<text id="ti1" transform="translate(214.40,31.30) scale(1.0438,1)" font-size="28.3" text-anchor="start" stroke="#000" stroke-width="0.25">CADI</text>
<text id="ti2" transform="translate(294.50,31.90) scale(1.0857,1)" font-size="28.3" text-anchor="start" stroke="#000" stroke-width="0.25">-</text>
<text id="ti3" transform="translate(314.40,31.30) scale(1.0875,1)" font-size="28.3" text-anchor="start" stroke="#000" stroke-width="0.25">Nov</text>
<text id="ti4" transform="translate(379.90,31.30) scale(1.1321,1)" font-size="28.3" text-anchor="start" stroke="#000" stroke-width="0.25">10</text>
<text id="ti5" transform="translate(425.50,31.30) scale(1.1583,1)" font-size="28.3" text-anchor="start" stroke="#000" stroke-width="0.25">03:15:00</text>
<text id="ti6" transform="translate(564.40,31.30) scale(1.1541,1)" font-size="28.3" text-anchor="start" stroke="#000" stroke-width="0.25">2024</text>
<text id="ti7" transform="translate(647.10,31.30) scale(0.9745,1)" font-size="28.3" text-anchor="start" stroke="#000" stroke-width="0.25">UTC</text>
<text id="xl0" transform="translate(336.50,841.90) scale(1.0214,1)" font-size="25.4" text-anchor="start" stroke="#000" stroke-width="0.2">Frequency</text>
<text id="xl1" transform="translate(468.70,841.90) scale(1.0167,1)" font-size="25.4" text-anchor="start" stroke="#000" stroke-width="0.2">(MHz)</text>
<text id="yl0" transform="translate(27.70,560.40) rotate(-90) scale(1.0986,1)" font-size="25.4" text-anchor="start" stroke="#000" stroke-width="0.2">Virtual</text>
<text id="yl1" transform="translate(27.70,473.90) rotate(-90) scale(1.0853,1)" font-size="25.4" text-anchor="start" stroke="#000" stroke-width="0.2">height</text>
<text id="yl2" transform="translate(27.70,390.10) rotate(-90) scale(1.0875,1)" font-size="25.4" text-anchor="start" stroke="#000" stroke-width="0.2">(km)</text>
<text id="cl0" transform="translate(942.70,548.90) rotate(-90) scale(1.0644,1)" font-size="25.4" text-anchor="start" stroke="#000" stroke-width="0.2">Azimuth</text>
<text id="cl1" transform="translate(942.70,443.20) rotate(-90) scale(1.0814,1)" font-size="25.4" text-anchor="start" stroke="#000" stroke-width="0.2">Direction</text>
<text id="xt2" transform="translate(138.80,814.60) scale(1.0625,1)" font-size="17" text-anchor="middle" stroke="#000" stroke-width="0.15">2</text>
<text id="xt4" transform="translate(230.90,814.60) scale(1.1500,1)" font-size="17" text-anchor="middle" stroke="#000" stroke-width="0.15">4</text>
<text id="xt6" transform="translate(323.50,813.60) scale(1.1000,1)" font-size="17" text-anchor="middle" stroke="#000" stroke-width="0.15">6</text>
<text id="xt8" transform="translate(415.60,814.60) scale(1.1000,1)" font-size="17" text-anchor="middle" stroke="#000" stroke-width="0.15">8</text>
<text id="xt10" transform="translate(507.70,813.60) scale(1.0529,1)" font-size="17" text-anchor="middle" stroke="#000" stroke-width="0.15">10</text>
<text id="xt12" transform="translate(600.80,814.60) scale(1.0167,1)" font-size="17" text-anchor="middle" stroke="#000" stroke-width="0.15">12</text>
<text id="xt14" transform="translate(692.90,814.60) scale(1.1059,1)" font-size="17" text-anchor="middle" stroke="#000" stroke-width="0.15">14</text>
<text id="xt16" transform="translate(785.00,814.60) scale(1.0765,1)" font-size="17" text-anchor="middle" stroke="#000" stroke-width="0.15">16</text>
<text id="yt0" transform="translate(81.20,798.00) scale(1.1250,1)" font-size="17" text-anchor="end" stroke="#000" stroke-width="0.15">0</text>
<text id="yt200" transform="translate(81.00,674.57) scale(1.0852,1)" font-size="17" text-anchor="end" stroke="#000" stroke-width="0.15">200</text>
<text id="yt400" transform="translate(81.30,551.14) scale(1.0963,1)" font-size="17" text-anchor="end" stroke="#000" stroke-width="0.15">400</text>
<text id="yt600" transform="translate(81.00,426.71) scale(1.0852,1)" font-size="17" text-anchor="end" stroke="#000" stroke-width="0.15">600</text>
<text id="yt800" transform="translate(81.00,303.29) scale(1.0852,1)" font-size="17" text-anchor="end" stroke="#000" stroke-width="0.15">800</text>
<text id="yt1000" transform="translate(81.20,179.86) scale(1.0833,1)" font-size="17" text-anchor="end" stroke="#000" stroke-width="0.15">1000</text>
<text id="cb0" transform="translate(855.90,132.60) scale(0.9559,1)" font-size="17" text-anchor="start" stroke="#000" stroke-width="0.15">NNE</text>
<text id="cb1" transform="translate(855.50,222.60) scale(0.9333,1)" font-size="17" text-anchor="start" stroke="#000" stroke-width="0.15">E</text>
<text id="cb2" transform="translate(855.80,312.60) scale(0.8818,1)" font-size="17" text-anchor="start" stroke="#000" stroke-width="0.15">SSE</text>
<text id="cb3" transform="translate(855.50,402.60) scale(0.9474,1)" font-size="17" text-anchor="start" stroke="#000" stroke-width="0.15">SSW</text>
<text id="cb4" transform="translate(856.30,492.60) scale(0.9813,1)" font-size="17" text-anchor="start" stroke="#000" stroke-width="0.15">W</text>
<text id="cb5" transform="translate(856.00,582.60) scale(0.9846,1)" font-size="17" text-anchor="start" stroke="#000" stroke-width="0.15">NNW</text>
<text id="cb6" transform="translate(856.30,671.60) scale(1.1093,1)" font-size="17" text-anchor="start" stroke="#000" stroke-width="0.15">Vertical</text>
<text id="cb7" transform="translate(855.30,761.60) scale(1.0672,1)" font-size="17" text-anchor="start" stroke="#000" stroke-width="0.15">X-mode</text>
</g>
</svg>
</body></html>
